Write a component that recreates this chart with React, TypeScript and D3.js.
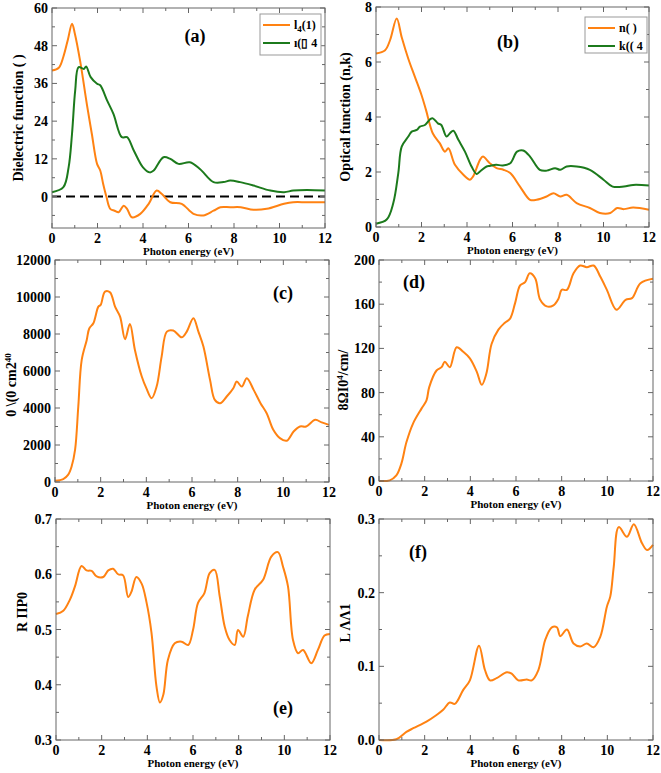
import React from 'react';
import * as d3 from 'd3';

// ---------- data ----------
const energyTicks = [0, 2, 4, 6, 8, 10, 12];

// (a) dielectric function
const eps1X = [0, 0.3, 0.5, 0.7, 0.88, 1.0, 1.24, 1.54, 1.75, 1.98, 2.12, 2.25, 2.39, 2.56, 2.75, 2.93, 3.15, 3.3, 3.51, 3.88, 4.25, 4.6, 4.83, 5.2, 5.7, 6.22, 6.65, 7.1, 7.4, 7.83, 8.3, 8.86, 9.44, 10.2, 10.6, 11.2, 12];
const eps1Y = [40.1, 41, 44.5, 50, 55, 52, 43, 29, 20, 10.4, 8.3, 4, 0, -3.9, -4.5, -5, -2.9, -3.9, -6.6, -5.5, -2.3, 1.9, 0.8, -1.8, -2.3, -5.5, -6, -4.5, -3.4, -3.4, -3.4, -4.2, -3.9, -2.3, -1.8, -1.8, -1.8];
const eps2X = [0, 0.5, 0.73, 0.88, 1.02, 1.17, 1.4, 1.5, 1.7, 1.98, 2.12, 2.42, 2.7, 3.07, 3.3, 3.6, 4.0, 4.3, 4.47, 4.9, 5.2, 5.56, 6.06, 6.5, 7.1, 7.54, 7.83, 8.27, 8.86, 9.6, 10.2, 10.6, 11.2, 12];
const eps2Y = [1.4, 3, 9.3, 20, 33.8, 41.2, 40.6, 41.4, 38, 35.9, 35.4, 30.6, 26.3, 18.9, 18.9, 14.6, 9.3, 7.7, 8.3, 12.5, 12, 10.4, 10.9, 8.8, 4.6, 4.6, 5.1, 4.6, 3.5, 1.9, 1.4, 1.9, 2.1, 1.9];
const epsTicks = [0, 12, 24, 36, 48, 60];

// (b) optical functions
const nX = [0, 0.4, 0.62, 0.91, 1.13, 1.42, 1.71, 2.0, 2.2, 2.5, 2.8, 3.03, 3.18, 3.47, 3.84, 4.13, 4.27, 4.57, 4.7, 5.0, 5.3, 5.6, 5.9, 6.33, 6.77, 7.06, 7.5, 7.8, 8.1, 8.38, 8.82, 9.4, 9.84, 10.3, 10.6, 10.9, 11.3, 12];
const nY = [6.31, 6.43, 6.8, 7.58, 6.9, 6.12, 5.46, 4.8, 4.25, 3.4, 3.05, 2.74, 2.86, 2.26, 1.9, 1.72, 1.84, 2.44, 2.56, 2.32, 2.14, 2.08, 1.96, 1.47, 0.99, 0.99, 1.11, 1.23, 1.11, 1.17, 0.87, 0.69, 0.51, 0.51, 0.69, 0.65, 0.71, 0.63];
const kX = [0, 0.47, 0.76, 0.98, 1.13, 1.42, 1.57, 1.79, 1.93, 2.15, 2.4, 2.5, 2.72, 2.87, 3.1, 3.25, 3.4, 3.62, 3.91, 4.2, 4.42, 4.57, 4.86, 5.0, 5.28, 5.57, 5.9, 6.2, 6.47, 6.77, 7.2, 7.5, 7.87, 8.1, 8.38, 8.82, 9.4, 10.0, 10.4, 10.9, 11.3, 12];
const kY = [0.12, 0.27, 0.87, 1.96, 2.92, 3.29, 3.47, 3.53, 3.65, 3.71, 3.93, 3.95, 3.77, 3.71, 3.29, 3.41, 3.5, 3.17, 2.74, 2.2, 1.93, 2.02, 2.2, 2.22, 2.26, 2.24, 2.32, 2.74, 2.78, 2.56, 2.08, 2.05, 2.14, 2.08, 2.2, 2.2, 2.08, 1.72, 1.47, 1.47, 1.53, 1.51];
const optTicks = [0, 2, 4, 6, 8];

// (c) absorption
const absX = [0, 0.36, 0.58, 0.73, 0.88, 1.02, 1.17, 1.39, 1.5, 1.68, 1.9, 2.0, 2.19, 2.41, 2.63, 2.85, 3.07, 3.28, 3.5, 3.8, 4.0, 4.23, 4.45, 4.67, 4.9, 5.18, 5.55, 5.77, 6.06, 6.28, 6.5, 6.79, 7.0, 7.23, 7.52, 7.81, 7.96, 8.18, 8.4, 8.7, 9.0, 9.27, 9.56, 9.85, 10.15, 10.45, 10.73, 11.0, 11.4, 11.68, 12];
const absY = [70, 160, 400, 850, 1750, 4080, 6600, 7680, 8300, 8580, 9480, 9570, 10290, 10250, 9480, 8940, 7720, 8540, 7140, 5700, 5070, 4530, 5160, 6780, 8130, 8190, 7820, 8130, 8850, 8130, 7320, 5520, 4440, 4260, 4620, 5070, 5430, 5160, 5610, 4980, 4260, 3720, 2820, 2370, 2230, 2730, 3000, 3000, 3360, 3220, 3090];
const absTicks = [0, 2000, 4000, 6000, 8000, 10000, 12000];

// (d) conductivity
const condX = [0, 0.47, 0.76, 0.98, 1.2, 1.49, 1.86, 2.08, 2.2, 2.52, 2.74, 2.88, 3.1, 3.4, 3.69, 3.98, 4.28, 4.5, 4.7, 4.93, 5.23, 5.5, 5.74, 5.96, 6.18, 6.4, 6.6, 6.84, 7.06, 7.35, 7.64, 7.86, 8.0, 8.23, 8.52, 8.81, 9.1, 9.4, 9.69, 9.98, 10.4, 10.8, 11.08, 11.45, 12];
const condY = [0, 0.6, 5, 15.7, 35, 52, 65.5, 73, 85, 100, 103, 108, 103, 121, 117, 111, 99, 87, 97, 124, 137, 143, 147, 161, 177, 180, 188, 183.5, 164, 158, 159, 165, 173, 173, 188, 195, 193.5, 195, 185, 173, 155, 164, 165.5, 179, 183];
const condTicks = [0, 40, 80, 120, 160, 200];

// (e) reflectivity
const reflX = [0, 0.32, 0.61, 0.83, 1.12, 1.34, 1.56, 1.78, 2.07, 2.29, 2.5, 2.72, 2.94, 3.16, 3.3, 3.52, 3.75, 3.96, 4.18, 4.4, 4.55, 4.7, 4.9, 5.2, 5.5, 5.79, 6.0, 6.22, 6.5, 6.73, 6.95, 7.17, 7.39, 7.6, 7.83, 7.97, 8.2, 8.4, 8.7, 9.07, 9.43, 9.72, 9.94, 10.16, 10.38, 10.6, 10.82, 11.18, 11.47, 11.76, 12];
const reflY = [0.528, 0.534, 0.554, 0.578, 0.615, 0.607, 0.606, 0.596, 0.595, 0.607, 0.61, 0.6, 0.598, 0.559, 0.568, 0.595, 0.583, 0.55, 0.495, 0.397, 0.368, 0.382, 0.445, 0.475, 0.478, 0.472, 0.499, 0.548, 0.566, 0.602, 0.608, 0.56, 0.505, 0.481, 0.472, 0.499, 0.487, 0.524, 0.572, 0.59, 0.632, 0.64, 0.614, 0.578, 0.481, 0.457, 0.463, 0.439, 0.463, 0.489, 0.492];
const reflTicks = [0.3, 0.4, 0.5, 0.6, 0.7];

// (f) energy loss
const lossX = [0, 0.76, 1.2, 1.5, 2.08, 2.52, 2.81, 3.1, 3.32, 3.69, 3.98, 4.38, 4.64, 4.86, 5.15, 5.6, 5.81, 6.1, 6.47, 6.69, 6.98, 7.28, 7.57, 7.79, 7.94, 8.23, 8.52, 8.81, 9.1, 9.4, 9.69, 9.98, 10.13, 10.28, 10.5, 10.86, 11.16, 11.52, 11.74, 12];
const lossY = [0, 0.001, 0.011, 0.016, 0.025, 0.034, 0.041, 0.051, 0.049, 0.068, 0.081, 0.128, 0.095, 0.081, 0.084, 0.092, 0.09, 0.081, 0.082, 0.081, 0.095, 0.136, 0.153, 0.153, 0.141, 0.15, 0.131, 0.127, 0.131, 0.126, 0.14, 0.181, 0.195, 0.235, 0.289, 0.276, 0.293, 0.267, 0.258, 0.265];
const lossTicks = [0.0, 0.1, 0.2, 0.3];

// ---------- styling ----------
const ORANGE = '#ff8212';
const GREEN = '#1c7a1c';
const FRAME = '#666';
const FONT = '"Liberation Serif", "Times New Roman", serif';

type Series = { x: number[]; y: number[]; color: string };

type PanelProps = {
  left: number; right: number; top: number; bottom: number;
  yDomain: [number, number];
  yTicks: number[];
  yFmt: (v: number) => string;
  series: Series[];
  label: string; labelX: number; labelY: number;
  yTitle: React.ReactNode; yTitleX: number; yTitleY: number;
  zeroLine?: boolean;
  legend?: { x: number; y: number; w: number; h: number; items: { color: string; text: React.ReactNode }[] };
};

function Panel(p: PanelProps) {
  const x = d3.scaleLinear().domain([0, 12]).range([p.left, p.right]);
  const y = d3.scaleLinear().domain(p.yDomain).range([p.bottom, p.top]);
  const line = d3.line<[number, number]>().x(d => x(d[0])).y(d => y(d[1])).curve(d3.curveCatmullRom.alpha(0.5));
  const step = p.yTicks[1] - p.yTicks[0];
  const yMinor: number[] = [];
  for (let v = p.yTicks[0] - step / 2; v <= p.yDomain[1] + 1e-9; v += step / 2) {
    if (v >= p.yDomain[0] - 1e-9 && !p.yTicks.some(t => Math.abs(t - v) < 1e-9)) yMinor.push(v);
  }
  const xMinor = d3.range(1, 12, 2);
  const maj = 5, mnr = 3;
  return (
    <g fontFamily={FONT} fontWeight="bold">
      {p.zeroLine && (
        <line x1={p.left} x2={p.right} y1={y(0)} y2={y(0)} stroke="#000" strokeWidth={2} strokeDasharray="9,5" />
      )}
      {p.series.map((s, i) => (
        <path key={i} d={line(s.x.map((v, j) => [v, s.y[j]] as [number, number])) || ''} fill="none" stroke={s.color} strokeWidth={2} />
      ))}
      <rect x={p.left} y={p.top} width={p.right - p.left} height={p.bottom - p.top} fill="none" stroke={FRAME} strokeWidth={1} />
      {energyTicks.map(t => (
        <g key={'xt' + t}>
          <line x1={x(t)} x2={x(t)} y1={p.bottom} y2={p.bottom - maj} stroke={FRAME} />
          <line x1={x(t)} x2={x(t)} y1={p.top} y2={p.top + maj} stroke={FRAME} />
          <text x={x(t)} y={p.bottom + 15} textAnchor="middle" fontSize={14}>{t}</text>
        </g>
      ))}
      {xMinor.map(t => (
        <g key={'xm' + t}>
          <line x1={x(t)} x2={x(t)} y1={p.bottom} y2={p.bottom - mnr} stroke={FRAME} />
          <line x1={x(t)} x2={x(t)} y1={p.top} y2={p.top + mnr} stroke={FRAME} />
        </g>
      ))}
      {p.yTicks.map(t => (
        <g key={'yt' + t}>
          <line x1={p.left} x2={p.left + maj} y1={y(t)} y2={y(t)} stroke={FRAME} />
          <line x1={p.right} x2={p.right - maj} y1={y(t)} y2={y(t)} stroke={FRAME} />
          <text x={p.left - 4} y={y(t) + 5} textAnchor="end" fontSize={14}>{p.yFmt(t)}</text>
        </g>
      ))}
      {yMinor.map(t => (
        <g key={'ym' + t}>
          <line x1={p.left} x2={p.left + mnr} y1={y(t)} y2={y(t)} stroke={FRAME} />
          <line x1={p.right} x2={p.right - mnr} y1={y(t)} y2={y(t)} stroke={FRAME} />
        </g>
      ))}
      <text x={(p.left + p.right) / 2} y={p.bottom + 27} textAnchor="middle" fontSize={11}>Photon energy (eV)</text>
      <text transform={`translate(${p.yTitleX},${p.yTitleY}) rotate(-90)`} textAnchor="middle" fontSize={14}>{p.yTitle}</text>
      <text x={p.labelX} y={p.labelY} textAnchor="middle" fontSize={18}>{p.label}</text>
      {p.legend && (
        <g>
          <rect x={p.legend.x} y={p.legend.y} width={p.legend.w} height={p.legend.h} fill="#fff" stroke="#999" strokeWidth={1} />
          {p.legend.items.map((it, i) => (
            <g key={i}>
              <line x1={p.legend!.x + 3} x2={p.legend!.x + 30} y1={p.legend!.y + 11 + i * 18} y2={p.legend!.y + 11 + i * 18} stroke={it.color} strokeWidth={2} />
              <text x={p.legend!.x + 34} y={p.legend!.y + 15 + i * 18} fontSize={12}>{it.text}</text>
            </g>
          ))}
        </g>
      )}
    </g>
  );
}

export default function App() {
  return (
    <svg width={661} height={773} style={{ position: 'absolute', left: 0, top: 0, background: '#fff' }}>
      <Panel left={52} right={325} top={8} bottom={228} yDomain={[-10, 60]} yTicks={epsTicks} yFmt={v => String(v)}
        series={[{ x: eps1X, y: eps1Y, color: ORANGE }, { x: eps2X, y: eps2Y, color: GREEN }]}
        label="(a)" labelX={195} labelY={42} zeroLine
        yTitle="Dielectric function ( )" yTitleX={23} yTitleY={118}
        legend={{ x: 260, y: 14, w: 61, h: 41, items: [
          { color: ORANGE, text: <tspan>l<tspan fontSize={9} dy={3}>4</tspan><tspan dy={-3}>(1)</tspan></tspan> },
          { color: GREEN, text: 'ı(▯ 4' },
        ] }} />
      <Panel left={376} right={649} top={7} bottom={227} yDomain={[0, 8]} yTicks={optTicks} yFmt={v => String(v)}
        series={[{ x: nX, y: nY, color: ORANGE }, { x: kX, y: kY, color: GREEN }]}
        label="(b)" labelX={508} labelY={48}
        yTitle="Optical function (n,k)" yTitleX={350} yTitleY={117}
        legend={{ x: 585, y: 17, w: 62, h: 36, items: [
          { color: ORANGE, text: 'n(   )' },
          { color: GREEN, text: 'k(( 4' },
        ] }} />
      <Panel left={55} right={329} top={260} bottom={482} yDomain={[0, 12000]} yTicks={absTicks} yFmt={v => String(v)}
        series={[{ x: absX, y: absY, color: ORANGE }]}
        label="(c)" labelX={283} labelY={299}
        yTitle={<tspan>0 \(0 cm2<tspan fontSize={9} dy={-5}>40</tspan></tspan>} yTitleX={16} yTitleY={385} />
      <Panel left={379} right={653} top={260} bottom={481} yDomain={[0, 200]} yTicks={condTicks} yFmt={v => String(v)}
        series={[{ x: condX, y: condY, color: ORANGE }]}
        label="(d)" labelX={414} labelY={288}
        yTitle={<tspan>8ΩI0<tspan fontSize={9} dy={-5}>4</tspan><tspan dy={5}>/cm/</tspan></tspan>} yTitleX={348} yTitleY={380} />
      <Panel left={56} right={330} top={519} bottom={740} yDomain={[0.3, 0.7]} yTicks={reflTicks} yFmt={d3.format('.1f')}
        series={[{ x: reflX, y: reflY, color: ORANGE }]}
        label="(e)" labelX={283} labelY={714}
        yTitle="R ΠΡ0" yTitleX={27} yTitleY={612} />
      <Panel left={379} right={653} top={519} bottom={740} yDomain={[0, 0.3]} yTicks={lossTicks} yFmt={d3.format('.1f')}
        series={[{ x: lossX, y: lossY, color: ORANGE }]}
        label="(f)" labelX={418} labelY={558}
        yTitle="L ΛΛ1" yTitleX={350} yTitleY={623} />
    </svg>
  );
}
